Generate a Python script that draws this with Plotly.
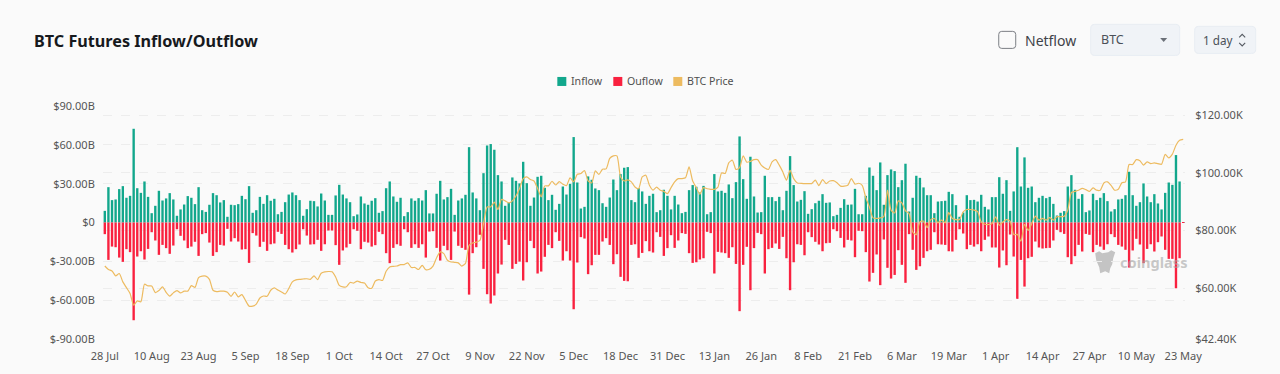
import pandas as pd
import plotly.graph_objects as go

inflow = [9.0,27.3,17.3,17.8,25.8,28.1,19.1,20.6,72.4,26.5,22.9,31.7,19.8,7.2,12.9,24.5,17.0,18.6,22.7,17.8,
5.2,10.1,13.9,20.4,19.1,14.2,27.3,9.5,8.2,13.7,22.7,21.1,15.5,17.3,4.4,13.7,13.4,14.2,20.6,18.0,
28.1,7.5,9.5,19.8,14.4,21.1,16.8,18.3,6.4,8.2,15.7,21.6,23.2,21.1,17.3,5.2,10.3,16.8,16.5,12.4,
22.4,17.0,5.9,5.9,20.9,29.1,21.6,18.6,15.7,4.9,6.2,20.1,14.7,13.7,16.8,18.8,7.5,8.8,26.5,31.7,
20.1,16.0,19.1,4.9,8.0,18.6,16.8,18.8,17.0,25.0,7.0,7.0,22.2,32.2,17.8,19.6,26.0,5.9,17.0,18.6,
21.4,58.2,23.2,18.6,9.5,38.1,59.5,60.6,56.2,36.6,31.7,12.9,15.5,34.8,32.2,30.2,46.9,30.4,12.9,19.3,
35.3,36.1,26.8,17.3,21.4,9.8,14.4,27.8,21.6,29.9,66.0,30.9,10.8,12.1,35.6,33.0,26.3,25.0,14.9,12.1,
19.3,33.2,25.0,37.4,42.3,42.8,17.3,15.7,26.5,24.0,14.4,20.6,22.2,8.0,9.5,25.3,20.6,10.1,20.6,13.9,
7.2,8.2,25.0,28.9,27.6,23.2,28.3,6.4,8.0,37.4,24.0,24.5,22.9,29.4,18.8,31.2,66.5,33.5,18.3,50.8,
20.1,7.7,8.0,36.1,19.6,19.6,16.5,19.8,9.5,24.5,51.3,28.9,16.2,17.5,24.2,6.7,10.3,14.9,16.8,21.9,
15.2,15.5,4.9,5.9,11.3,18.0,13.7,13.9,26.0,6.4,6.4,20.6,42.5,36.1,25.0,46.4,13.7,36.6,41.0,39.7,
27.3,32.7,45.4,8.5,19.1,36.1,34.5,27.1,21.1,21.1,7.2,16.2,16.5,16.8,23.7,21.9,13.4,4.4,7.7,21.1,
17.3,17.5,16.2,21.4,12.1,10.1,19.6,19.6,35.0,22.2,32.7,9.0,24.0,58.2,27.8,50.3,26.8,27.8,15.7,19.1,
20.6,18.8,19.8,14.4,5.4,7.5,8.8,27.8,36.6,25.3,18.3,21.9,8.0,9.3,22.2,17.3,19.1,22.7,16.5,8.5,
10.3,17.8,18.3,21.1,39.2,21.1,12.9,15.7,30.2,20.1,15.7,21.9,14.7,10.1,22.9,30.9,29.1,52.1,31.7,0.2]

outflow = [-9.0,-28.9,-18.6,-19.1,-27.1,-30.4,-20.6,-22.9,-75.5,-26.3,-22.2,-28.6,-20.4,-7.5,-13.9,-25.0,-17.3,-19.8,-24.2,-17.8,
-5.2,-10.3,-13.9,-19.8,-18.6,-14.9,-25.8,-9.0,-8.2,-15.5,-25.8,-22.9,-17.3,-17.8,-4.9,-14.7,-12.1,-14.7,-20.9,-20.6,
-31.2,-8.2,-10.1,-18.8,-14.9,-21.9,-16.8,-16.2,-7.2,-8.8,-17.3,-20.6,-23.2,-20.6,-17.0,-5.2,-10.1,-17.0,-16.8,-13.4,
-21.9,-16.8,-6.2,-6.2,-17.5,-32.7,-21.6,-19.3,-16.5,-5.2,-6.4,-20.6,-14.9,-15.5,-18.6,-17.5,-7.2,-9.0,-23.7,-31.4,
-19.6,-16.8,-18.0,-5.2,-7.5,-19.6,-16.8,-19.6,-16.8,-27.1,-7.0,-6.7,-19.6,-29.4,-18.0,-21.4,-28.9,-7.0,-18.0,-19.6,
-21.1,-55.7,-23.7,-19.1,-9.5,-35.8,-55.4,-62.6,-56.4,-39.4,-32.5,-13.4,-17.3,-35.8,-32.0,-30.2,-44.8,-30.7,-14.2,-19.8,
-39.4,-37.9,-26.5,-17.3,-19.8,-7.5,-14.2,-29.4,-22.2,-29.4,-67.0,-30.9,-11.3,-12.4,-39.9,-33.0,-25.0,-25.0,-14.7,-12.1,
-17.3,-32.2,-24.5,-42.0,-45.1,-45.4,-17.3,-16.8,-27.3,-23.5,-14.4,-22.2,-23.2,-7.5,-11.1,-25.8,-19.8,-9.8,-19.6,-13.9,
-8.2,-8.8,-23.7,-31.2,-30.7,-28.6,-27.6,-7.2,-8.2,-39.4,-22.7,-23.2,-23.7,-27.3,-19.1,-32.0,-68.5,-32.7,-18.8,-52.3,
-19.8,-8.0,-9.0,-39.4,-20.6,-19.6,-16.2,-20.4,-11.1,-27.6,-52.3,-30.7,-16.8,-17.3,-25.3,-7.5,-11.3,-14.9,-17.0,-22.2,
-16.0,-15.7,-5.2,-6.7,-11.9,-19.3,-13.4,-13.9,-26.8,-6.4,-6.7,-22.9,-45.6,-38.9,-24.7,-48.4,-13.1,-35.0,-43.3,-40.5,
-21.4,-32.7,-46.6,-9.0,-21.1,-36.6,-33.8,-27.3,-22.2,-21.1,-7.5,-16.8,-17.0,-17.3,-22.2,-22.4,-13.4,-5.2,-8.5,-20.6,
-17.3,-18.6,-16.8,-22.2,-13.4,-10.8,-19.3,-19.3,-34.8,-21.6,-33.0,-9.3,-26.3,-59.0,-28.9,-49.5,-27.6,-26.5,-14.7,-19.3,
-20.1,-19.8,-19.6,-13.9,-5.7,-7.5,-8.8,-26.8,-32.2,-26.0,-17.3,-22.4,-8.8,-9.5,-22.9,-17.3,-18.6,-21.1,-16.8,-9.0,
-11.3,-17.3,-18.6,-21.1,-34.8,-21.6,-12.6,-17.0,-31.4,-20.4,-16.8,-22.4,-15.2,-10.8,-21.1,-28.1,-28.1,-50.8,-27.6,-0.2]

price = [67.7,66.5,66.0,64.3,65.1,62.2,60.2,58.2,54.1,55.6,55.3,61.4,60.8,60.8,58.5,59.2,60.5,58.6,57.3,58.4,
59.2,58.4,59.0,59.0,60.9,60.3,63.7,64.2,64.2,63.1,59.3,58.8,59.0,59.0,58.6,57.2,58.7,57.0,57.8,55.8,
53.8,53.8,54.5,56.6,57.3,57.2,59.3,60.1,59.4,58.7,58.0,59.9,62.2,62.9,63.1,63.2,63.3,63.1,64.3,63.0,
65.2,65.7,65.8,65.7,63.9,61.0,60.5,60.5,62.0,61.8,62.5,62.0,61.8,60.2,60.0,62.5,63.0,62.7,65.9,67.4,
67.6,67.7,68.2,68.2,68.8,67.2,67.2,66.5,67.9,66.4,66.6,67.7,70.6,72.6,72.0,69.7,69.1,69.0,68.8,67.7,
68.6,74.9,75.7,76.0,76.6,82.4,88.2,88.2,89.9,87.3,90.8,90.3,89.6,90.3,92.0,94.6,98.0,98.6,97.7,97.2,
94.6,91.7,95.5,95.5,97.1,95.8,97.0,96.1,95.6,98.3,96.9,99.5,99.8,100.8,97.2,96.5,100.7,99.5,101.3,101.4,
105.0,105.9,105.9,98.6,97.2,97.6,96.9,95.1,94.5,98.6,99.2,95.7,94.0,95.1,94.0,93.6,92.8,94.9,96.9,98.0,
98.0,98.3,102.1,97.2,94.9,92.6,94.9,94.5,94.3,94.3,95.1,100.0,99.8,103.5,104.4,101.2,101.8,105.9,103.7,104.0,
104.6,104.6,102.7,101.7,101.2,103.8,104.6,102.7,100.3,97.5,100.9,98.0,96.5,96.4,96.3,96.3,96.3,97.5,95.6,97.7,
96.3,97.2,97.3,96.6,95.4,95.4,95.7,98.0,96.1,96.4,95.7,91.4,88.2,84.4,84.2,84.4,84.8,94.0,87.1,86.1,
90.3,89.6,86.8,85.9,79.5,78.6,83.0,83.3,81.0,83.8,84.2,82.7,83.6,82.7,86.2,84.2,83.8,83.8,86.5,87.3,
87.3,87.1,86.6,83.0,82.2,82.1,82.4,84.8,81.8,83.0,83.8,83.3,78.6,78.7,76.3,82.2,80.1,82.4,85.0,83.6,
84.2,83.6,84.5,83.6,84.8,84.8,85.0,87.1,93.2,93.6,94.0,94.6,94.2,93.6,94.8,94.0,94.0,96.5,96.9,95.7,
94.0,94.3,96.6,96.9,102.9,102.9,104.6,104.2,102.7,103.8,103.2,103.5,103.2,103.0,106.4,105.2,106.5,109.6,111.3,111.6]

x_ticks = ["2024-07-28","2024-08-10","2024-08-23","2024-09-05","2024-09-18","2024-10-01","2024-10-14","2024-10-27",
           "2024-11-09","2024-11-22","2024-12-05","2024-12-18","2024-12-31","2025-01-13","2025-01-26","2025-02-08",
           "2025-02-21","2025-03-06","2025-03-19","2025-04-01","2025-04-14","2025-04-27","2025-05-10","2025-05-23"]
x_labels = ["28 Jul","10 Aug","23 Aug","5 Sep","18 Sep","1 Oct","14 Oct","27 Oct","9 Nov","22 Nov","5 Dec","18 Dec",
            "31 Dec","13 Jan","26 Jan","8 Feb","21 Feb","6 Mar","19 Mar","1 Apr","14 Apr","27 Apr","10 May","23 May"]
left_vals = [90,60,30,0,-30,-60,-90]
left_text = ["$90.00B","$60.00B","$30.00B","$0","$-30.00B","$-60.00B","$-90.00B"]
right_vals = [120,100,80,60,42.4]
right_text = ["$120.00K","$100.00K","$80.00K","$60.00K","$42.40K"]

dates = pd.date_range("2024-07-28", periods=len(inflow), freq="D")

W, H = 1280, 374
L, R, T, B = 102.6, 1184.8, 106.0, 338.6
FONT = "Noto Sans"
GREEN, RED, GOLD = "#12a78c", "#f9213f", "#edbb60"

def px(x): return (x - L) / (R - L)
def py(y): return (B - y) / (B - T)

fig = go.Figure()
fig.add_bar(x=dates, y=inflow, name="Inflow", marker_color=GREEN, marker_line_width=0, showlegend=False)
fig.add_bar(x=dates, y=outflow, name="Ouflow", marker_color=RED, marker_line_width=0, showlegend=False)
fig.add_scatter(x=dates, y=price, name="BTC Price", yaxis="y2", mode="lines", showlegend=False,
                line=dict(color=GOLD, width=1.2, shape="spline", smoothing=0.6))

shapes, ann = [], []
def text(x, y, s, size, color="#444", anchor="left", family=FONT, weight=400):
    ann.append(dict(xref="paper", yref="paper", x=px(x), y=py(y), text=s, showarrow=False, xanchor=anchor,
                    yanchor="middle", font=dict(family=family, size=size, color=color, weight=weight),
                    borderpad=0, borderwidth=0, align="left"))
def rect(x0, y0, x1, y1, fill, line=None, r=0):
    if r:
        p = (f"M{px(x0+r)},{py(y0)} L{px(x1-r)},{py(y0)} Q{px(x1)},{py(y0)} {px(x1)},{py(y0+r)} "
             f"L{px(x1)},{py(y1-r)} Q{px(x1)},{py(y1)} {px(x1-r)},{py(y1)} L{px(x0+r)},{py(y1)} "
             f"Q{px(x0)},{py(y1)} {px(x0)},{py(y1-r)} L{px(x0)},{py(y0+r)} Q{px(x0)},{py(y0)} {px(x0+r)},{py(y0)} Z")
        shapes.append(dict(type="path", xref="paper", yref="paper", path=p, fillcolor=fill,
                           line=dict(color=line or fill, width=1), layer="above"))
    else:
        shapes.append(dict(type="rect", xref="paper", yref="paper", x0=px(x0), x1=px(x1), y0=py(y0), y1=py(y1),
                           fillcolor=fill, line=dict(width=0), layer="above"))
def poly(points, fill=None, line=None, width=1, layer="above"):
    p = "M" + " L".join(f"{px(a)},{py(b)}" for a, b in points)
    if fill: p += " Z"
    shapes.append(dict(type="path", xref="paper", yref="paper", path=p, fillcolor=fill or "rgba(0,0,0,0)",
                       line=dict(color=line or "rgba(0,0,0,0)", width=width), layer=layer))

text(34, 41, "BTC Futures Inflow/Outflow", 16.2, "#16191d", weight=700)

# controls
rect(998.5, 31.5, 1015.5, 48.5, "#fafafa", "#7c7f85", r=3)
text(1025, 40.5, "Netflow", 14, "#3f4349")
rect(1090.5, 24.5, 1179.5, 55.5, "#f0f3f7", "#e8edf3", r=4)
text(1101, 40, "BTC", 12.5, "#4b5058")
poly([(1160, 38), (1167, 38), (1163.5, 42)], fill="#6b7078")
rect(1194.5, 26.5, 1255.5, 53.5, "#f0f3f7", "#e8edf3", r=4)
text(1203, 40, "1 day", 11.7, "#4b5058")
poly([(1239, 37.5), (1242, 34.5), (1245, 37.5)], line="#555a62", width=1.1)
poly([(1239, 43), (1242, 46), (1245, 43)], line="#555a62", width=1.1)

# legend
for x0, col, lab in [(557, GREEN, "Inflow"), (613, RED, "Ouflow"), (673, GOLD, "BTC Price")]:
    rect(x0, 77, x0 + 9, 86, col)
    text(x0 + 14, 81, lab, 10.6, "#4f4f4f")

# watermark: sits behind the bars
poly([(1095, 253), (1099, 251), (1102, 253), (1108, 252), (1111, 250), (1115, 252), (1113, 258), (1112, 264),
      (1110, 268), (1109, 273), (1105, 271), (1100, 273), (1099, 267), (1096, 260)], fill="#c4c4c4", layer="below")
text(1119.5, 262, "coinglass", 14.6, "rgba(165,165,165,0.6)", weight=700)

fig.update_layout(
    width=W, height=H, barmode="relative", bargap=0.34, autosize=False,
    margin=dict(l=L, r=W - R, t=T, b=H - B),
    paper_bgcolor="#fafafa", plot_bgcolor="rgba(0,0,0,0)",
    font=dict(family=FONT, size=11, color="#555"),
    shapes=shapes, annotations=ann, hovermode=False,
    xaxis=dict(type="date", range=[dates[0] - pd.Timedelta(hours=12), dates[-1] + pd.Timedelta(hours=12)],
               tickmode="array", tickvals=x_ticks, ticktext=x_labels, showgrid=False, zeroline=False,
               ticks="outside", ticklen=7, tickcolor="rgba(0,0,0,0)", showline=False),
    yaxis=dict(range=[-90, 90], tickmode="array", tickvals=left_vals, ticktext=left_text, showgrid=True,
               gridcolor="#ededed", griddash="dash", gridwidth=1, zeroline=False, ticks="outside", ticklen=5,
               tickcolor="rgba(0,0,0,0)", showline=False),
    yaxis2=dict(range=[42.4, 123.2], overlaying="y", side="right", tickmode="array", tickvals=right_vals,
                ticktext=right_text, showgrid=True, gridcolor="#ededed", griddash="dash", gridwidth=1,
                zeroline=False, ticks="outside", ticklen=7, tickcolor="rgba(0,0,0,0)", showline=False),
)

fig.write_html("out.html", config={"displayModeBar": False},
               post_script="document.body.style.margin='0';document.body.style.overflow='hidden';")
